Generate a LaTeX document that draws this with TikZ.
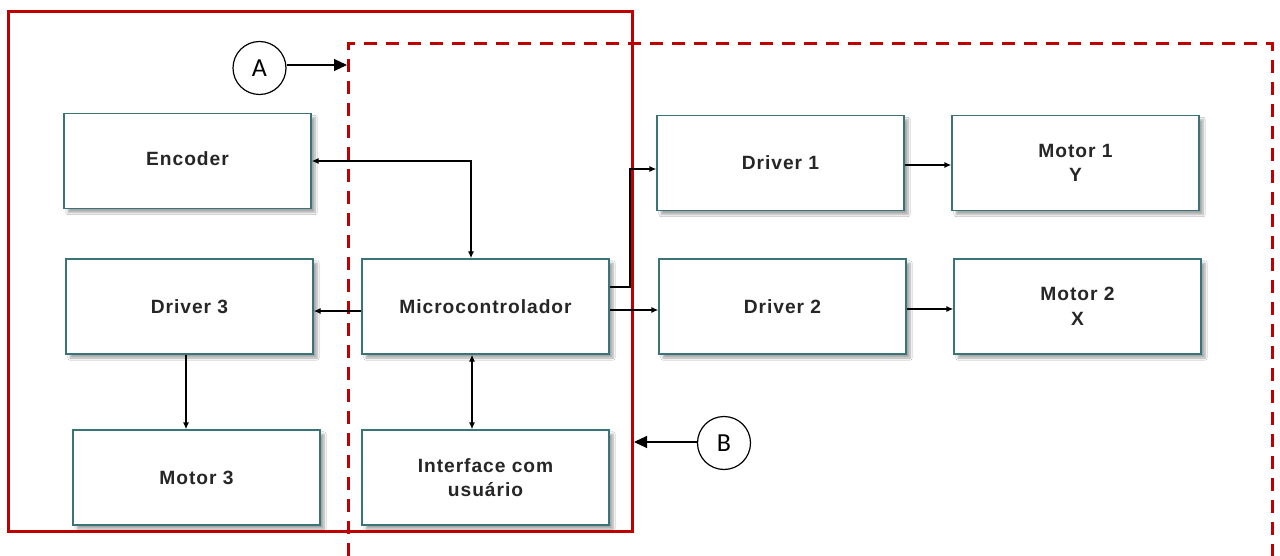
\documentclass[tikz,border=0pt]{standalone}
\usepackage{fontspec}
\setmainfont{Liberation Sans}
\newfontfamily\calfont{Carlito}
\newfontfamily\blkfont[LetterSpace=5]{Liberation Sans}
\usetikzlibrary{arrows.meta,shadows.blur}
\definecolor{frame}{HTML}{C00000}
\definecolor{boxline}{HTML}{3A7478}
\tikzset{
  blk/.style={draw=boxline, line width=1.3pt, fill=white, minimum width=247pt, minimum height=95pt,
    inner sep=0pt, align=center, font=\blkfont\fontsize{19.2}{24.5}\selectfont\bfseries\color{black!85},
    blur shadow={shadow xshift=4pt, shadow yshift=-4pt, shadow blur steps=8, shadow opacity=35}},
  link/.style={line width=1.3pt, -{Latex[length=7pt,width=6pt]}},
  link2/.style={line width=1.3pt, {Latex[length=7pt,width=6pt]}-{Latex[length=7pt,width=6pt]}},
  tag/.style={draw, circle, line width=1.2pt, minimum size=53pt, inner sep=0pt, font=\calfont\fontsize{26}{28}\selectfont},
  tagarrow/.style={line width=1.1pt, -{Triangle[length=13pt,width=12pt]}},
}
\begin{document}
\begin{tikzpicture}[x=1pt,y=-1pt]
\useasboundingbox (0,0) rectangle (1280,556);
\fill[white] (0,0) rectangle (1280,556);

% outer frames
\draw[frame, line width=3pt] (8,12) rectangle (632,531);
\draw[frame, line width=3pt, dash pattern=on 13pt off 9pt] (348,556) -- (348,44) -- (1272,44) -- (1272,556);

% blocks
\node[blk] (enc)  at (187.5,161) {Encoder\vphantom{y}};
\node[blk] (drv3) at (189.5,306.5) {Driver 3};
\node[blk] (mot3) at (196.5,477.5) {Motor 3};
\node[blk] (mcu)  at (485.5,306.5) {Microcontrolador};
\node[blk] (ui)   at (485.5,477.5) {Interface com\\usuário};
\node[blk] (drv1) at (780.5,163) {Driver 1};
\node[blk] (mot1) at (1075.5,163) {Motor 1\\Y};
\node[blk] (drv2) at (782.5,306.5) {Driver 2};
\node[blk] (mot2) at (1077.5,306.5) {Motor 2\\X};

% connectors
\draw[link2] (enc.east |- 0,161) -| (mcu.north -| 471,0);
\draw[link] (mcu.west |- 0,311) -- (drv3.east |- 0,311);
\draw[link] (mcu.east |- 0,287) -| (630,169) -- (drv1.west |- 0,169);
\draw[link] (mcu.east |- 0,310) -- (drv2.west |- 0,310);
\draw[link] (drv1.east |- 0,165) -- (mot1.west |- 0,165);
\draw[link] (drv2.east |- 0,309) -- (mot2.west |- 0,309);
\draw[link] (drv3.south -| 186,0) -- (mot3.north -| 186,0);
\draw[link2] (mcu.south -| 472,0) -- (ui.north -| 472,0);

% tags
\node[tag] (a) at (259.5,68) {A};
\node[tag] (b) at (724,443) {B};
\coordinate (aend) at (347,65);
\coordinate (bend) at (634,442);
\draw[tagarrow] (a.east |- 0,65) -- (aend);
\draw[tagarrow] (b.west |- 0,442) -- (bend);
\end{tikzpicture}
\end{document}
